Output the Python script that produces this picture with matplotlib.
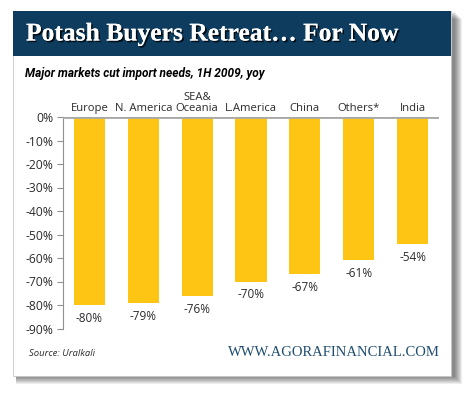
import matplotlib.pyplot as plt
from matplotlib.patches import Rectangle
import matplotlib.patheffects as pe
from matplotlib.transforms import blended_transform_factory

# data
regions = ["Europe", "N. America", "SEA&\nOceania", "L.America", "China", "Others*", "India"]
changes = [-80, -79, -76, -70, -67, -61, -54]
y_ticks = [0, -10, -20, -30, -40, -50, -60, -70, -80, -90]

BAR = "#FFC515"
NAVY = "#0D3C5E"
TXT = "#2b2b2b"
SANS = ["Open Sans", "DejaVu Sans"]

fig = plt.figure(figsize=(4.7, 3.97), dpi=100)
fig.patch.set_facecolor("white")

# card with soft shadow
W, H = 470.0, 397.0
cx0, cx1 = 13 / W, 451 / W
cy0, cy1 = 1 - 376 / H, 1 - 11 / H
for k in range(8, 0, -1):
    fig.patches.append(Rectangle((cx0 + 3 / W, cy0 - k / H), cx1 - cx0 + k / W, cy1 - cy0,
                                 transform=fig.transFigure, facecolor="black",
                                 alpha=0.07, edgecolor="none", zorder=0))
fig.patches.append(Rectangle((cx0, cy0), cx1 - cx0, cy1 - cy0, transform=fig.transFigure,
                             facecolor="white", edgecolor="#c8c8c8", lw=0.6, zorder=1))
# banner
fig.patches.append(Rectangle((cx0, 1 - 56 / H), cx1 - cx0, (56 - 11) / H,
                             transform=fig.transFigure, facecolor=NAVY,
                             edgecolor="none", zorder=2))

fig.text(26 / W, 1 - 34 / H, "Potash Buyers Retreat\u2026 For Now", color="white",
         family="Liberation Serif", weight="bold", fontsize=18.4, va="center",
         zorder=3,
         path_effects=[pe.withSimplePatchShadow(offset=(1.2, -1.2), shadow_rgbFace="black",
                                                alpha=0.8), pe.Normal()])
fig.text(25 / W, 1 - 73 / H, "Major markets cut import needs, 1H 2009, yoy", color="black",
         family=["Roboto", "DejaVu Sans"], weight="bold", style="italic", fontsize=8.6,
         va="center", zorder=3)
fig.text(29 / W, 1 - 354 / H, "Source: Uralkali", color=TXT, family=SANS,
         style="italic", fontsize=6.8, va="center", zorder=3)
fig.text(440 / W, 1 - 353 / H, "WWW.AGORAFINANCIAL.COM", color="#1F4E70",
         family="Liberation Serif", fontsize=10.5, va="center", ha="right", zorder=3)

ax = fig.add_axes([63 / W, 1 - 328.5 / H, (439 - 63) / W, (328.5 - 117) / H], zorder=4)
ax.patch.set_alpha(0)
x = list(range(len(regions)))
ax.bar(x, changes, width=0.58, color=BAR, edgecolor="none", zorder=2)
ax.set_xlim(-0.49, len(regions) - 0.51)
ax.set_ylim(-90, 0)

ax.axhline(0, color="#a8a8a8", lw=2, zorder=3)
for s in ["top", "right", "bottom"]:
    ax.spines[s].set_visible(False)
ax.spines["left"].set_color("#909090")
ax.spines["left"].set_linewidth(0.8)
ax.set_xticks([])
ax.set_yticks(y_ticks)
ax.set_yticklabels([f"{v}%" for v in y_ticks], family=SANS, fontsize=8.7, color=TXT)
ax.tick_params(axis="y", length=4, color="#909090", width=0.8, pad=3)

trans = blended_transform_factory(ax.transData, ax.transAxes)
for i, (name, v) in enumerate(zip(regions, changes)):
    ax.text(i, 1.015, name, transform=trans, ha="center", va="bottom",
            family=SANS, fontsize=8.1, color=TXT, linespacing=0.95)
    ax.annotate(f"{v}%", (i, v), xytext=(0, -5), textcoords="offset points",
                ha="center", va="top", family=SANS, fontsize=8.5, color=TXT)

fig.savefig("out.png", dpi=100)
